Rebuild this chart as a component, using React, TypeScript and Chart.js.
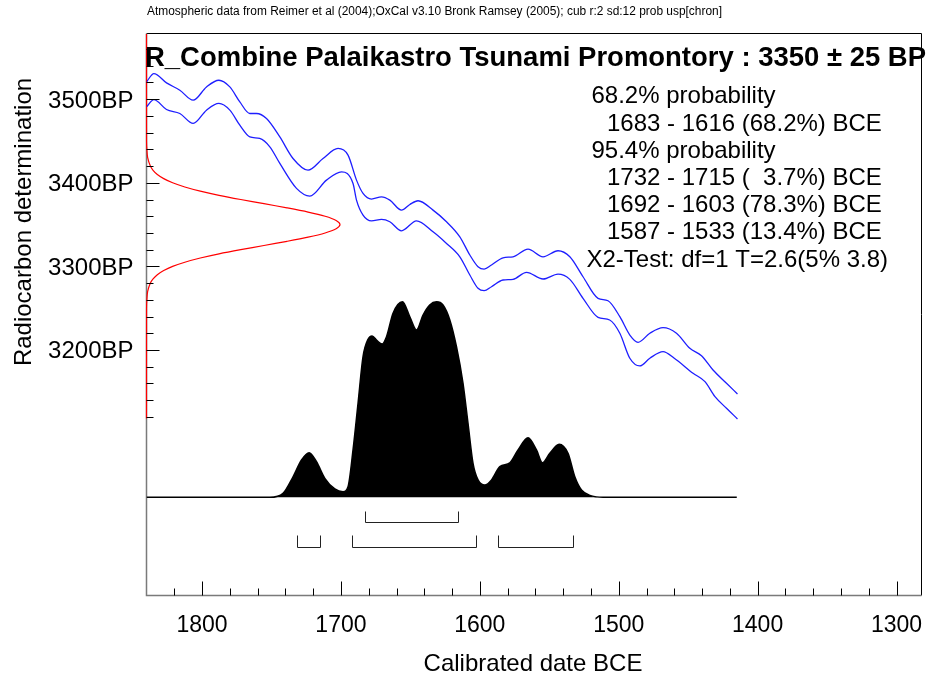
import React, { useEffect, useRef } from 'react';
import { Chart, registerables } from 'chart.js';
Chart.register(...registerables);

// ---- Calibration curve (IntCal04), +1 sigma and -1 sigma envelopes ----
const calUpperYears = [1840, 1834.7, 1825.6, 1816, 1806.4, 1796.8, 1787.9, 1780, 1772.8, 1765.6, 1760.8, 1753.6, 1744, 1734.5, 1723.7, 1712.9, 1702.1, 1694.9, 1688.8, 1684.1, 1678, 1670.8, 1664.8, 1656.4, 1650.4, 1644.5, 1633.7, 1624, 1614.4, 1607.2, 1601.3, 1596.9, 1591.6, 1583.3, 1576.1, 1565.3, 1554.5, 1543.7, 1535.2, 1525.7, 1514.9, 1507.7, 1499.2, 1492, 1486.1, 1477.6, 1468.1, 1458.4, 1448.8, 1440.4, 1432.1, 1422.4, 1414.5];
const calUpperBP = [3520.7, 3530.7, 3519.5, 3510.8, 3498.8, 3514.7, 3522.7, 3514.7, 3496.8, 3482.9, 3482.9, 3476.9, 3454.9, 3429.1, 3415.1, 3429.1, 3441.1, 3433.1, 3403.2, 3387.3, 3380.5, 3383.2, 3379.3, 3367.3, 3374.1, 3378.5, 3367.3, 3353.4, 3335.4, 3313.6, 3299.6, 3296.8, 3301.6, 3310.3, 3311.5, 3320.7, 3311.5, 3318.7, 3311.5, 3287.6, 3261.8, 3258.9, 3239.8, 3217.9, 3209.2, 3220.0, 3226.7, 3220.0, 3202.0, 3193.2, 3176.1, 3160.2, 3147.4];
const calLowerYears = [1840, 1834.7, 1825.6, 1816, 1806.4, 1796.8, 1787.9, 1780, 1772.8, 1765.6, 1758.5, 1751.2, 1744, 1732, 1722.4, 1710.4, 1699.6, 1691.3, 1688.8, 1684.1, 1678, 1670.8, 1664.8, 1656.4, 1645.6, 1633.7, 1624, 1614.4, 1607.2, 1601.3, 1596.9, 1591.6, 1583.3, 1576.1, 1566.4, 1554.5, 1543.7, 1535.2, 1525.7, 1514.9, 1506.5, 1499.2, 1492, 1484.8, 1477.6, 1468.1, 1460, 1446.5, 1437.9, 1430.7, 1422.4, 1414.5];
const calLowerBP = [3490.8, 3499.6, 3487.7, 3482.9, 3471.0, 3486.9, 3494.9, 3486.9, 3468.9, 3454.9, 3453.0, 3443.0, 3423.2, 3393.3, 3384.1, 3403.2, 3413.1, 3399.2, 3379.3, 3361.4, 3354.5, 3356.2, 3353.4, 3342.6, 3354.5, 3341.4, 3327.5, 3311.5, 3289.7, 3273.8, 3270.9, 3275.7, 3283.7, 3284.5, 3292.9, 3284.9, 3290.8, 3284.5, 3261.8, 3239.1, 3235.9, 3220.0, 3190.1, 3180.9, 3190.1, 3198.0, 3190.1, 3172.2, 3162.1, 3144.2, 3130.3, 3117.5];

// ---- Calibrated probability distribution (relative) ----
const probYears = [1840, 1751.2, 1741.7, 1734.5, 1728.4, 1722.9, 1717.6, 1711.6, 1704.4, 1698.5, 1694.9, 1691.3, 1687.7, 1684.1, 1680.5, 1677.6, 1674.0, 1670.4, 1667.2, 1662.5, 1655.7, 1650.4, 1645.6, 1640.9, 1636.1, 1631.2, 1626.5, 1621.6, 1616.8, 1612.1, 1608.5, 1604.9, 1601.3, 1596.4, 1591.6, 1585.6, 1578.4, 1572.5, 1565.3, 1559.2, 1554.9, 1549.6, 1542.9, 1536.5, 1531.6, 1526.8, 1519.6, 1511.3, 1415];
const probValues = [0, 0, 0.020, 0.104, 0.189, 0.226, 0.180, 0.096, 0.042, 0.028, 0.054, 0.240, 0.476, 0.713, 0.801, 0.818, 0.794, 0.777, 0.814, 0.933, 0.991, 0.915, 0.848, 0.924, 0.975, 0.991, 0.975, 0.899, 0.763, 0.578, 0.375, 0.172, 0.088, 0.062, 0.088, 0.155, 0.175, 0.240, 0.302, 0.240, 0.175, 0.223, 0.269, 0.223, 0.104, 0.037, 0.007, 0, 0];

// ---- Radiocarbon determination 3350 ± 25 BP (relative density) ----
const c14BP = [3578, 3450, 3440, 3430, 3420, 3415, 3410, 3405, 3400, 3395, 3390, 3385, 3380, 3375, 3370, 3365, 3360, 3355, 3350, 3345, 3340, 3335, 3330, 3325, 3320, 3315, 3310, 3305, 3300, 3295, 3290, 3285, 3280, 3270, 3260, 3250, 3118];
const c14Density = [0, 0.0003, 0.002, 0.006, 0.020, 0.034, 0.056, 0.089, 0.135, 0.198, 0.278, 0.375, 0.487, 0.607, 0.726, 0.835, 0.923, 0.980, 1, 0.980, 0.923, 0.835, 0.726, 0.607, 0.487, 0.375, 0.278, 0.198, 0.135, 0.089, 0.056, 0.034, 0.020, 0.006, 0.002, 0.0003, 0];

// ---- Ranges ----
const ranges68 = [[1683, 1616]];
const ranges95 = [[1732, 1715], [1692, 1603], [1587, 1533]];

// ---- Ticks and texts ----
const xTickLabels = [1800, 1700, 1600, 1500, 1400, 1300];
const xMinorStart = 1820, xMinorEnd = 1300, xMinorStep = 20;
const yTickLabels = [3500, 3400, 3300, 3200];
const yMinorStart = 3560, yMinorEnd = 3120, yMinorStep = 20;

const captionText = 'Atmospheric data from Reimer et al (2004);OxCal v3.10 Bronk Ramsey (2005); cub r:2 sd:12 prob usp[chron]';
const titleText = 'R_Combine Palaikastro Tsunami Promontory : 3350 \u00b1 25 BP';
const infoLines = [
  '68.2% probability',
  '1683 - 1616 (68.2%) BCE',
  '95.4% probability',
  '1732 - 1715 (  3.7%) BCE',
  '1692 - 1603 (78.3%) BCE',
  '1587 - 1533 (13.4%) BCE',
  'X2-Test: df=1 T=2.6(5% 3.8)',
];
const infoIndent = [591.5, 607, 591.5, 607, 607, 607, 586.5];
const xAxisTitle = 'Calibrated date BCE';
const yAxisTitle = 'Radiocarbon determination';

const FONT = '"Liberation Sans", Arial, Helvetica, sans-serif';

function fitText(ctx: CanvasRenderingContext2D, text: string, x: number, y: number, width: number) {
  const w = ctx.measureText(text).width;
  ctx.save();
  ctx.translate(x, y);
  ctx.scale(width / w, 1);
  ctx.fillText(text, 0, 0);
  ctx.restore();
}

const frame = {
  id: 'oxcalFrame',
  beforeDatasetsDraw(chart: any) {
    const { ctx, chartArea: a } = chart;
    ctx.save();
    ctx.lineWidth = 1;
    ctx.strokeStyle = '#000';
    ctx.beginPath();
    ctx.moveTo(a.left, a.top);
    ctx.lineTo(a.right, a.top);
    ctx.lineTo(a.right, a.bottom);
    ctx.stroke();
    ctx.strokeStyle = '#7a7a7a';
    ctx.lineWidth = 1.5;
    ctx.beginPath();
    ctx.moveTo(a.left, a.top);
    ctx.lineTo(a.left, a.bottom);
    ctx.lineTo(a.right, a.bottom);
    ctx.stroke();
    ctx.restore();
  },
  afterDatasetsDraw(chart: any) {
    const { ctx, chartArea: a, scales } = chart;
    const xs = scales.x, ys = scales.y, yp = scales.yp;
    ctx.save();
    // x ticks (inward)
    ctx.strokeStyle = '#000';
    ctx.lineWidth = 1;
    for (let v = xMinorStart; v >= xMinorEnd; v -= xMinorStep) {
      const px = Math.round(xs.getPixelForValue(v)) + 0.5;
      const len = v % 100 === 0 ? 14 : 7;
      ctx.beginPath();
      ctx.moveTo(px, a.bottom);
      ctx.lineTo(px, a.bottom - len);
      ctx.stroke();
    }
    // y ticks (inward)
    for (let v = yMinorStart; v >= yMinorEnd; v -= yMinorStep) {
      const py = Math.round(ys.getPixelForValue(v)) + 0.5;
      const len = v % 100 === 0 ? 13 : 7;
      ctx.beginPath();
      ctx.moveTo(a.left, py);
      ctx.lineTo(a.left + len, py);
      ctx.stroke();
    }
    // range brackets
    const base = yp.getPixelForValue(0);
    ctx.strokeStyle = '#222';
    const drawBracket = (r: number[], top: number, bot: number) => {
      const x1 = Math.round(xs.getPixelForValue(r[0])) + 0.5;
      const x2 = Math.round(xs.getPixelForValue(r[1])) + 0.5;
      const yt = Math.round(base + top) + 0.5;
      const yb = Math.round(base + bot) + 0.5;
      ctx.beginPath();
      ctx.moveTo(x1, yt);
      ctx.lineTo(x1, yb);
      ctx.lineTo(x2, yb);
      ctx.lineTo(x2, yt);
      ctx.stroke();
    };
    ranges68.forEach((r) => drawBracket(r, 13.5, 25));
    ranges95.forEach((r) => drawBracket(r, 37.7, 49.4));

    // texts
    ctx.fillStyle = '#000';
    ctx.textBaseline = 'alphabetic';
    ctx.textAlign = 'left';
    ctx.font = `12px ${FONT}`;
    fitText(ctx, captionText, 147, 15, 575);
    ctx.font = `bold 27px ${FONT}`;
    fitText(ctx, titleText, 145, 66, 781);

    ctx.font = `24px ${FONT}`;
    infoLines.forEach((t, i) => {
      ctx.fillText(t, infoIndent[i], 103.3 + i * 27.2);
    });

    ctx.textAlign = 'right';
    yTickLabels.forEach((v) => {
      const py = ys.getPixelForValue(v);
      ctx.fillText(`${v}BP`, 133.5, py + 8.5);
    });

    ctx.textAlign = 'center';
    ctx.font = `23px ${FONT}`;
    xTickLabels.forEach((v) => {
      const px = xs.getPixelForValue(v);
      ctx.fillText(String(v), px, 632);
    });

    ctx.font = `24px ${FONT}`;
    ctx.fillText(xAxisTitle, 533, 671);

    ctx.save();
    ctx.translate(31, 222);
    ctx.rotate(-Math.PI / 2);
    ctx.fillText(yAxisTitle, 0, 0);
    ctx.restore();

    ctx.restore();
  },
};

export default function App() {
  const ref = useRef<HTMLCanvasElement>(null);
  useEffect(() => {
    document.body.style.margin = '0';
    const canvas = ref.current!;
    const chart = new Chart(canvas, {
      type: 'scatter',
      data: {
        datasets: [
          {
            data: probYears.map((x, i) => ({ x, y: probValues[i] })),
            xAxisID: 'x',
            yAxisID: 'yp',
            showLine: true,
            borderColor: '#000',
            backgroundColor: '#000',
            borderWidth: 1.5,
            fill: 'origin',
            cubicInterpolationMode: 'monotone',
            pointRadius: 0,
          } as any,
          {
            data: calUpperYears.map((x, i) => ({ x, y: calUpperBP[i] })),
            xAxisID: 'x',
            yAxisID: 'y',
            showLine: true,
            borderColor: 'rgb(30,30,255)',
            borderWidth: 1.3,
            fill: false,
            cubicInterpolationMode: 'monotone',
            pointRadius: 0,
          } as any,
          {
            data: calLowerYears.map((x, i) => ({ x, y: calLowerBP[i] })),
            xAxisID: 'x',
            yAxisID: 'y',
            showLine: true,
            borderColor: 'rgb(30,30,255)',
            borderWidth: 1.3,
            fill: false,
            cubicInterpolationMode: 'monotone',
            pointRadius: 0,
          } as any,
          {
            data: c14BP.map((y, i) => ({ x: c14Density[i], y })),
            xAxisID: 'xr',
            yAxisID: 'y',
            showLine: true,
            borderColor: 'rgb(255,0,0)',
            borderWidth: 1.2,
            fill: false,
            tension: 0.3,
            pointRadius: 0,
            clip: false,
          } as any,
        ],
      },
      options: {
        responsive: false,
        devicePixelRatio: 1,
        animation: false,
        events: [],
        layout: { padding: { left: 146.5, top: 33.5, right: 6.5, bottom: 81.5 } },
        plugins: { legend: { display: false }, tooltip: { enabled: false }, title: { display: false } },
        scales: {
          x: { type: 'linear', reverse: true, min: 1282, max: 1840, display: false },
          xr: { type: 'linear', min: 0, max: 4.005, display: false },
          y: { type: 'linear', min: 2906.3, max: 3578.6, display: false },
          yp: { type: 'linear', min: -0.498, max: 2.351, display: false },
        },
      },
      plugins: [frame],
    });
    return () => chart.destroy();
  }, []);
  return <canvas ref={ref} width={928} height={677} style={{ display: 'block', width: 928, height: 677 }} />;
}
